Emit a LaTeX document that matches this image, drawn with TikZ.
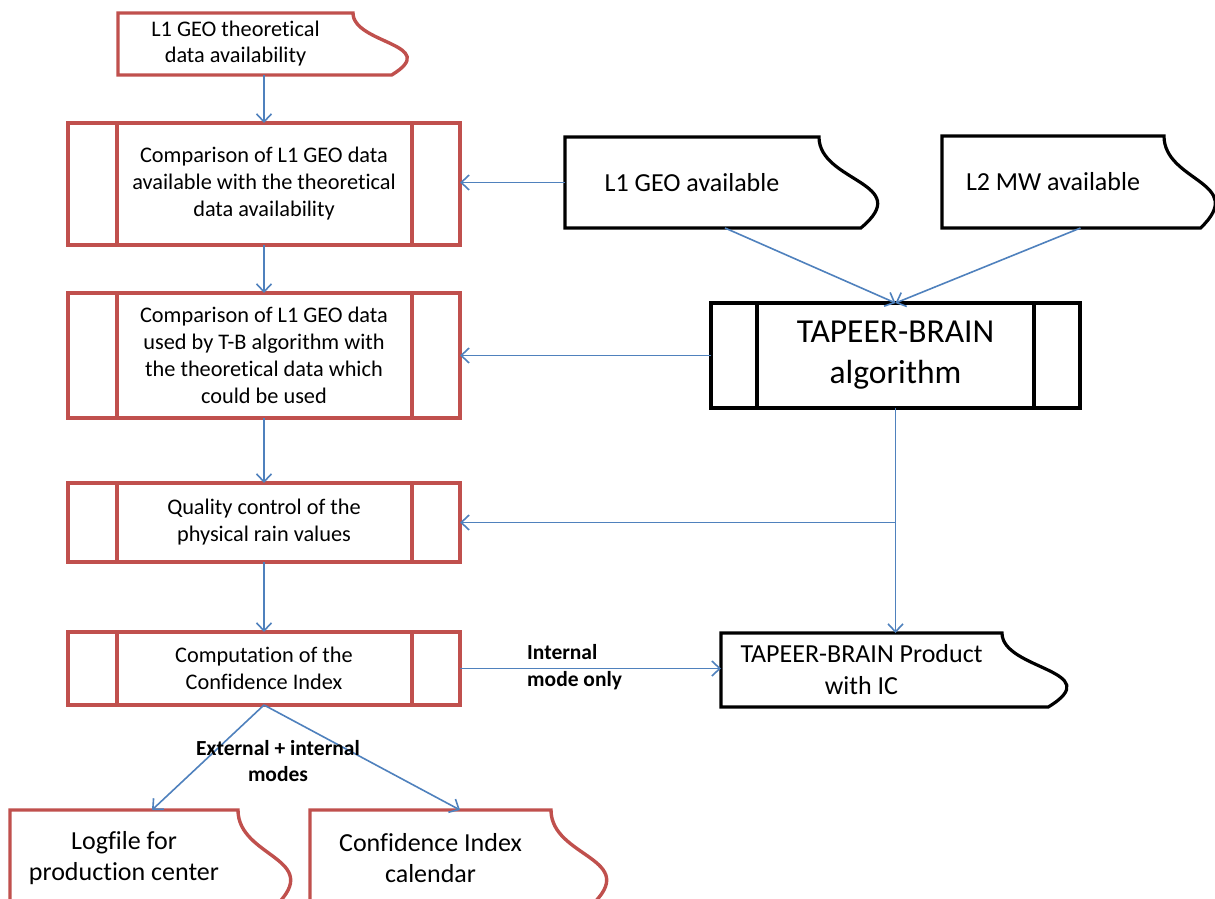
\documentclass[tikz,border=0pt]{standalone}
\usepackage{fontspec}
\setmainfont{Carlito}[Ligatures=NoCommon]
\usetikzlibrary{arrows.meta,calc}
\definecolor{redb}{RGB}{192,80,77}
\definecolor{blueb}{RGB}{79,129,189}
\newcommand{\docoutline}[3]{\draw[#1] (#2.south west) -- (#2.north west) -- (#2.north east) .. controls (#2.east) and ([xshift={0.381*#3pt}]#2.east) .. ([xshift={0.1646*#3pt}]#2.south east) -- cycle;}
\tikzset{
  proc/.style={rectangle, draw=#1, line width=3.4pt, minimum width=392pt, inner sep=0pt, outer sep=0pt, align=center, font=\fontsize{22.3}{27}\selectfont},
  docnode/.style={rectangle, inner sep=0pt, outer sep=0pt, align=center},
  redline/.style={draw=redb, line width=3.4pt},
  blackline/.style={draw=black, line width=3.2pt},
  arr/.style={draw=blueb, line width=1.6pt, -{Straight Barb[length=8pt,width=15pt]}},
  lbl/.style={font=\bfseries\fontsize{21.5}{26.5}\selectfont, inner sep=0pt}
}
\begin{document}
\begin{tikzpicture}[x=1pt,y=-1pt]
\useasboundingbox (0,0) rectangle (1215,899);
\clip (0,0) rectangle (1215,899);
\fill[white] (0,0) rectangle (1215,899);

% left column process boxes
\node[proc=redb, minimum height=122pt] (b1) at (264,184) {Comparison of L1 GEO data\\available with the theoretical\\data availability};
\node[proc=redb, minimum height=125pt] (b2) at (264,355.5) {Comparison of L1 GEO data\\used by T-B algorithm with\\the theoretical data which\\could be used};
\node[proc=redb, minimum height=79pt] (b3) at (264,522.5) {Quality control of the\\physical rain values};
\node[proc=redb, minimum height=73pt] (b4) at (264,668.5) {Computation of the\\Confidence Index};
\foreach \n in {b1,b2,b3,b4}{
  \draw[redline] ([xshift=49pt]\n.north west) -- ([xshift=49pt]\n.south west)
                 ([xshift=-48pt]\n.north east) -- ([xshift=-48pt]\n.south east);
}

% algorithm box
\node[proc=black, line width=3.2pt, minimum width=369pt, minimum height=105pt, font=\fontsize{33.5}{41}\selectfont] (alg) at (895.5,355.5) {TAPEER-BRAIN\\algorithm};
\draw[blackline] ([xshift=46pt]alg.north west) -- ([xshift=46pt]alg.south west)
                 ([xshift=-46pt]alg.north east) -- ([xshift=-46pt]alg.south east);

% document shapes
\node[docnode, minimum width=235pt, minimum height=62pt, font=\fontsize{22.3}{26}\selectfont] (top) at (235.5,44) {L1 GEO theoretical\\data availability};
\docoutline{redline}{top}{235}
\node[docnode, minimum width=254pt, minimum height=91pt, font=\fontsize{26}{32}\selectfont] (l1) at (692,182.5) {L1 GEO available};
\docoutline{blackline}{l1}{254}
\node[docnode, minimum width=222pt, minimum height=92pt, font=\fontsize{26}{32}\selectfont] (l2) at (1053,182) {L2 MW available};
\docoutline{blackline}{l2}{222}
\node[docnode, minimum width=281pt, minimum height=74pt, font=\fontsize{26}{32}\selectfont] (prod) at (861.5,670) {TAPEER-BRAIN Product\\with IC};
\docoutline{blackline}{prod}{281}
\node[docnode, minimum width=228pt, minimum height=96pt, font=\fontsize{26}{31}\selectfont] (log) at (124,858) {Logfile for\\production center};
\docoutline{redline}{log}{228}
\node[docnode, minimum width=241pt, minimum height=96pt, font=\fontsize{26}{31}\selectfont] (cal) at (430.5,858) {Confidence Index\\calendar};
\docoutline{redline}{cal}{241}

% connectors
\draw[arr] (b1.north |- top.south) -- (b1.north);
\draw[arr] (b1.south) -- (b2.north);
\draw[arr] (b2.south) -- (b3.north);
\draw[arr] (b3.south) -- (b4.north);
\draw[arr] (l1.west) -- (l1.west -| b1.east);
\draw[arr] ([xshift=33pt]l1.south) -- (alg.north);
\draw[arr] ([xshift=27.5pt]l2.south) -- (alg.north);
\draw[arr] (alg.west) -- (b2.east);
\coordinate (j) at (alg.south |- b3.east);
\draw[arr] (alg.south) -- (alg.south |- prod.north);
\draw[arr] (j) -- (b3.east);
\draw[arr] (b4.east) -- (b4.east -| prod.west);
\draw[arr] (b4.south) -- ([xshift=28pt]log.north);
\draw[arr] (b4.south) -- ([xshift=29.5pt]cal.north);

% labels
\node[lbl, align=left, anchor=west] (lint) at (527,667) {Internal\\mode only};
\node[lbl, align=center] (lext) at (278,761) {External + internal\\modes};
\end{tikzpicture}
\end{document}
